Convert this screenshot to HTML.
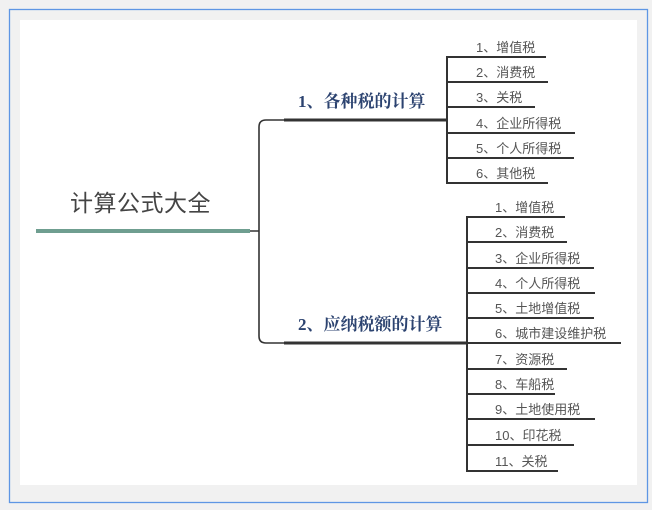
<!DOCTYPE html>
<html><head><meta charset="utf-8"><style>
html,body{margin:0;padding:0;background:#f1f1f1;}
svg{display:block;}
</style></head><body>
<svg width="652" height="510" xmlns="http://www.w3.org/2000/svg" font-family="'Liberation Sans','Noto Sans CJK SC',sans-serif">
<rect x="0" y="0" width="652" height="510" fill="#f1f1f1"/>
<rect x="9.5" y="9.5" width="638" height="493" fill="none" stroke="#5e96e4" stroke-width="1.3"/>
<rect x="20" y="20" width="617" height="465" fill="#ffffff"/>

<text x="70" y="211" font-size="23" fill="#444" letter-spacing="0.5">计算公式大全</text>
<line x1="36" y1="231" x2="250" y2="231" stroke="#6f9e90" stroke-width="4"/>
<line x1="250" y1="231" x2="259" y2="231" stroke="#333" stroke-width="1.5"/>

<path d="M284 120 H266 Q259 120 259 127 V336 Q259 343 266 343 H284" fill="none" stroke="#333" stroke-width="1.6"/>
<line x1="284" y1="120" x2="447" y2="120" stroke="#333" stroke-width="3"/>
<line x1="284" y1="343" x2="467" y2="343" stroke="#333" stroke-width="3"/>

<text x="298" y="107" font-size="17" font-weight="bold" fill="#2c4370" font-family="'Liberation Serif','Noto Serif CJK SC',serif">1、各种税的计算</text>
<text x="298" y="330" font-size="17" font-weight="bold" fill="#2c4370" font-family="'Liberation Serif','Noto Serif CJK SC',serif">2、应纳税额的计算</text>

<g stroke="#333" stroke-width="2" fill="none">
<line x1="447" y1="56" x2="447" y2="184"/>
<line x1="446" y1="57" x2="546" y2="57"/>
<line x1="446" y1="82" x2="548" y2="82"/>
<line x1="446" y1="107" x2="535" y2="107"/>
<line x1="446" y1="133" x2="575" y2="133"/>
<line x1="446" y1="158" x2="574" y2="158"/>
<line x1="446" y1="183" x2="548" y2="183"/>

<line x1="467" y1="216" x2="467" y2="472"/>
<line x1="466" y1="217" x2="565" y2="217"/>
<line x1="466" y1="242" x2="567" y2="242"/>
<line x1="466" y1="268" x2="594" y2="268"/>
<line x1="466" y1="293" x2="595" y2="293"/>
<line x1="466" y1="318" x2="594" y2="318"/>
<line x1="466" y1="343" x2="621" y2="343"/>
<line x1="466" y1="369" x2="567" y2="369"/>
<line x1="466" y1="394" x2="555" y2="394"/>
<line x1="466" y1="419" x2="595" y2="419"/>
<line x1="466" y1="445" x2="574" y2="445"/>
<line x1="466" y1="471" x2="558" y2="471"/>
</g>

<g font-size="13" fill="#555">
<text x="476" y="52">1、增值税</text>
<text x="476" y="77">2、消费税</text>
<text x="476" y="102">3、关税</text>
<text x="476" y="128">4、企业所得税</text>
<text x="476" y="153">5、个人所得税</text>
<text x="476" y="178">6、其他税</text>

<text x="495" y="212">1、增值税</text>
<text x="495" y="237">2、消费税</text>
<text x="495" y="263">3、企业所得税</text>
<text x="495" y="288">4、个人所得税</text>
<text x="495" y="313">5、土地增值税</text>
<text x="495" y="338">6、城市建设维护税</text>
<text x="495" y="364">7、资源税</text>
<text x="495" y="389">8、车船税</text>
<text x="495" y="414">9、土地使用税</text>
<text x="495" y="440">10、印花税</text>
<text x="495" y="466">11、关税</text>
</g>
</svg>
</body></html>
